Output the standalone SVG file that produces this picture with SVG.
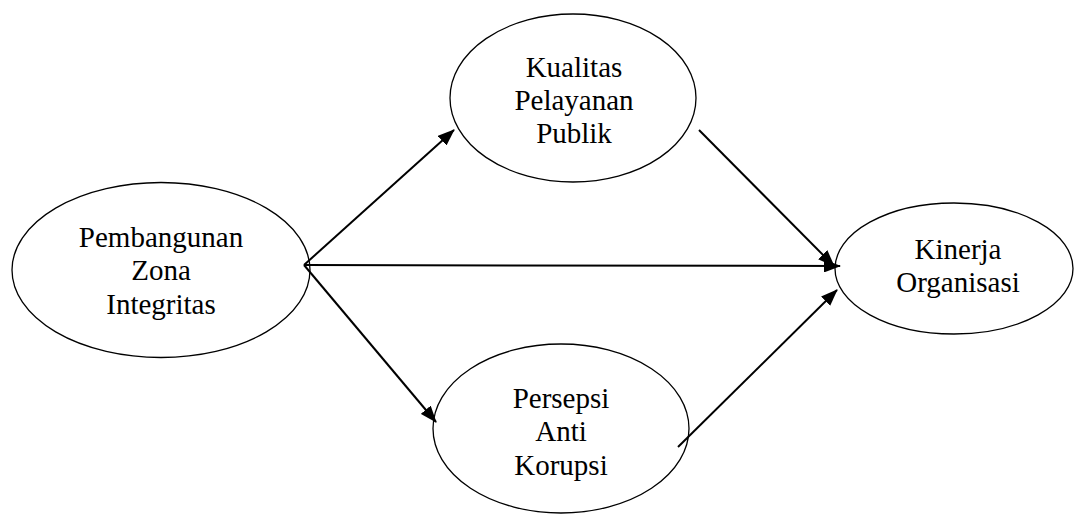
<svg xmlns="http://www.w3.org/2000/svg" width="1075" height="514" viewBox="0 0 1075 514">
<style>
.node ellipse{fill:#fff;stroke:#000;stroke-width:1.3}
.node text{font-family:"Liberation Serif","Times New Roman",serif;font-size:29px;text-anchor:middle;fill:#000}
.edge{stroke:#000;stroke-width:2;fill:none;marker-end:url(#ah)}
</style>
<defs>
<marker id="ah" viewBox="0 0 17 13" refX="16" refY="6.5" markerWidth="17" markerHeight="13" markerUnits="userSpaceOnUse" orient="auto">
<path d="M0,0 L17,6.5 L0,13 z" fill="#000"/>
</marker>
</defs>
<rect width="1075" height="514" fill="#fff"/>
<g id="pzi" class="node">
<ellipse cx="161" cy="270" rx="149" ry="87.5"/>
<text x="161" y="247">Pembangunan</text>
<text x="161" y="280">Zona</text>
<text x="161" y="314">Integritas</text>
</g>
<g id="kpp" class="node">
<ellipse cx="573" cy="98" rx="123" ry="84"/>
<text x="574" y="77">Kualitas</text>
<text x="574" y="110">Pelayanan</text>
<text x="574" y="143">Publik</text>
</g>
<g id="pak" class="node">
<ellipse cx="561" cy="428.5" rx="128" ry="84.5"/>
<text x="561" y="408">Persepsi</text>
<text x="561" y="441">Anti</text>
<text x="561" y="475">Korupsi</text>
</g>
<g id="ko" class="node">
<ellipse cx="954" cy="268.5" rx="119" ry="65.5"/>
<text x="958" y="259">Kinerja</text>
<text x="958" y="292">Organisasi</text>
</g>
<g id="connectors">
<line class="edge" x1="304" y1="265" x2="454" y2="130"/>
<line class="edge" x1="304" y1="265" x2="840" y2="266"/>
<line class="edge" x1="304" y1="265" x2="436" y2="422"/>
<line class="edge" x1="699" y1="130" x2="834" y2="266"/>
<line class="edge" x1="678" y1="447" x2="837" y2="290"/>
</g>
</svg>
